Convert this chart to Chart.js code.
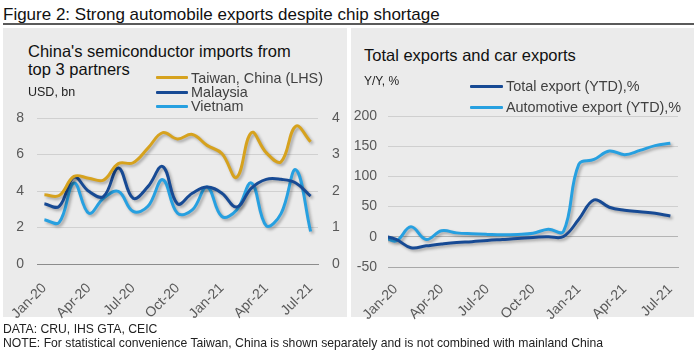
<!DOCTYPE html>
<html>
<head>
<meta charset="utf-8">
<script src="https://cdn.jsdelivr.net/npm/chart.js@4.4.1/dist/chart.umd.min.js"></script>
<style>
  body { margin: 0; width: 697px; height: 351px; background: #fff; position: relative; overflow: hidden;
         font-family: 'Liberation Sans', Arial, sans-serif; }
  .t { position: absolute; white-space: nowrap; }
  .panel { position: absolute; background: #ebebeb; }
  .sw { position: absolute; height: 3px; border-radius: 1px; }
  canvas { position: absolute; }
</style>
</head>
<body>
<div class="t" style="left:3px;top:6px;font-size:17px;line-height:17px;color:#111">Figure 2: Strong automobile exports despite chip shortage</div>
<div style="position:absolute;left:3px;top:23px;width:691px;height:2px;background:#5a5a5a"></div>

<div class="panel" style="left:3px;top:28px;width:344px;height:289px"></div>
<div class="panel" style="left:351px;top:28px;width:343px;height:289px"></div>

<canvas id="leftChart" width="344" height="215" style="left:3px;top:108px"></canvas>
<canvas id="rightChart" width="342" height="217" style="left:352px;top:106px"></canvas>

<div class="t" style="left:28px;top:42px;font-size:16.5px;line-height:18px;color:#111">China's semiconductor imports from<br>top 3 partners</div>
<div class="t" style="left:28px;top:85px;font-size:12.5px;line-height:14px;color:#222">USD, bn</div>
<div class="sw" style="left:156px;top:76px;width:32px;background:#d6a21e"></div>
<div class="sw" style="left:156px;top:90.5px;width:32px;background:#174a94"></div>
<div class="sw" style="left:156px;top:105px;width:32px;background:#27a0e0"></div>
<div class="t" style="left:191px;top:70.5px;font-size:14.4px;line-height:14.3px;color:#404040">Taiwan, China (LHS)</div>
<div class="t" style="left:191px;top:84.8px;font-size:14.4px;line-height:14.3px;color:#404040">Malaysia</div>
<div class="t" style="left:191px;top:99.1px;font-size:14.4px;line-height:14.3px;color:#404040">Vietnam</div>

<div class="t" style="left:364px;top:46px;font-size:16.5px;line-height:18px;color:#111">Total exports and car exports</div>
<div class="t" style="left:364px;top:74px;font-size:12px;line-height:14px;color:#222">Y/Y, %</div>
<div class="sw" style="left:470px;top:85px;width:33px;background:#174a94"></div>
<div class="sw" style="left:470px;top:105.5px;width:33px;background:#27a0e0"></div>
<div class="t" style="left:506px;top:79px;font-size:14.4px;line-height:14.3px;color:#404040">Total export (YTD),%</div>
<div class="t" style="left:506px;top:99.5px;font-size:14.4px;line-height:14.3px;color:#404040">Automotive export (YTD),%</div>

<div class="t" style="left:3px;top:322px;font-size:12.2px;line-height:14px;color:#222">DATA: CRU, IHS GTA, CEIC</div>
<div class="t" style="left:3px;top:336px;font-size:12.2px;line-height:14px;color:#222">NOTE: For statistical convenience Taiwan, China is shown separately and is not combined with mainland China</div>

<script>
// months shown on both charts
var months = ['Jan-20','Feb-20','Mar-20','Apr-20','May-20','Jun-20','Jul-20','Aug-20','Sep-20','Oct-20','Nov-20','Dec-20',
              'Jan-21','Feb-21','Mar-21','Apr-21','May-21','Jun-21','Jul-21'];
var tickMonths = [0, 3, 6, 9, 12, 15, 18];

// left chart, USD bn (Taiwan on LHS, the others on RHS)
var taiwan   = [3.8, 3.75, 4.8, 4.7, 4.6, 5.5, 5.55, 6.35, 7.2, 6.85, 7.1, 6.5, 6.05, 4.75, 7.2, 6.1, 5.6, 7.55, 6.7];
var malaysia = [1.65, 1.58, 2.38, 1.99, 1.85, 2.63, 1.8, 2.12, 2.67, 1.65, 1.94, 2.11, 1.94, 1.56, 2.08, 2.32, 2.32, 2.22, 1.86];
var vietnam  = [1.21, 1.14, 2.22, 1.39, 1.8, 1.99, 1.44, 1.58, 2.31, 1.39, 1.48, 2.11, 1.3, 1.48, 2.22, 1.05, 1.38, 2.58, 0.89];

// right chart, Y/Y %, series start one month earlier (Dec-19, cut off at the axis)
var rightMonths = ['Dec-19'].concat(months);
var totalExport = [2, -4, -18, -15, -12, -9.5, -8, -6, -4.5, -3, -1, 0, 0.5, 29, 61, 49, 44, 41.5, 39, 34.5];
var autoExport  = [5, -7, 16.5, -4.5, 10, 6.5, 5, 4, 3.3, 4, 6, 12.5, 9, 120, 128, 142, 136, 143, 151, 155];

var GOLD = '#d6a21e', DARK = '#174a94', LIGHT = '#27a0e0';
Chart.defaults.font.family = "'Liberation Sans', Arial, sans-serif";
Chart.defaults.font.size = 14;
Chart.defaults.color = '#595959';

function pts(arr, start) {
  return arr.map(function(v, i){ return {x: i + start, y: v}; });
}
function line(label, data, color, axis) {
  return {label: label, data: data, borderColor: color, backgroundColor: color, borderWidth: 3,
          pointRadius: 0, tension: 0.4, yAxisID: axis || 'y'};
}

// soft drop shadow under the lines
var shadow = {
  id: 'shadow',
  beforeDatasetDraw: function(chart){
    var c = chart.ctx; c.save();
    c.shadowColor = 'rgba(0,0,0,0.3)'; c.shadowBlur = 3; c.shadowOffsetX = 2; c.shadowOffsetY = 2;
  },
  afterDatasetDraw: function(chart){ chart.ctx.restore(); }
};

// x axis: month index scale, half a month of room at each end, labels every quarter
function xAxis(labels, offset, h, pad, axisColor) {
  return {
    type: 'linear', min: -0.5, max: 18.5,
    grid: {display: false},
    border: {display: true, color: axisColor, width: 1},
    afterBuildTicks: function(s){ s.ticks = tickMonths.map(function(v){ return {value: v}; }); },
    afterFit: function(s){ s.height = h; s.paddingLeft = 0; s.paddingRight = 0; },
    ticks: {minRotation: 45, maxRotation: 45, autoSkip: false, padding: pad,
            callback: function(v){ return labels[v + offset]; }}
  };
}
function fixW(w) {
  return function(s){ s.width = w; s.paddingTop = 0; s.paddingBottom = 0; };
}

new Chart(document.getElementById('leftChart'), {
  type: 'line',
  data: {datasets: [
    line('Taiwan, China (LHS)', pts(taiwan, 0), GOLD, 'y'),
    line('Malaysia', pts(malaysia, 0), DARK, 'y1'),
    line('Vietnam', pts(vietnam, 0), LIGHT, 'y1')
  ]},
  options: {
    responsive: false, animation: false,
    layout: {padding: {top: 10, left: 0, right: 0, bottom: 0}},
    plugins: {legend: {display: false}, tooltip: {enabled: false}},
    scales: {
      x: xAxis(months, 0, 59, 8, '#8c8c8c'),
      y: {min: 0, max: 8, border: {display: false},
          grid: {drawTicks: false, color: '#d0d0d0'},
          afterFit: fixW(34),
          ticks: {stepSize: 2, padding: 13}},
      y1: {position: 'right', min: 0, max: 4, border: {display: false},
           grid: {display: false, drawTicks: false},
           afterFit: fixW(29),
           ticks: {stepSize: 1, padding: 14}}
    }
  },
  plugins: [shadow]
});

new Chart(document.getElementById('rightChart'), {
  type: 'line',
  data: {datasets: [
    line('Total export (YTD),%', pts(totalExport, -1), DARK),
    line('Automotive export (YTD),%', pts(autoExport, -1), LIGHT)
  ]},
  options: {
    responsive: false, animation: false,
    layout: {padding: {top: 10, left: 0, right: 16, bottom: 0}},
    plugins: {legend: {display: false}, tooltip: {enabled: false}},
    scales: {
      x: xAxis(rightMonths, 1, 56, 6, '#a8a8a8'),
      y: {min: -50, max: 200, border: {display: false},
          grid: {drawTicks: false, color: function(c){ return c.tick && c.tick.value === 0 ? '#b4b4b4' : '#cfcfcf'; }},
          afterFit: fixW(36),
          ticks: {stepSize: 50, padding: 11}}
    }
  },
  plugins: [shadow]
});
</script>
</body>
</html>
